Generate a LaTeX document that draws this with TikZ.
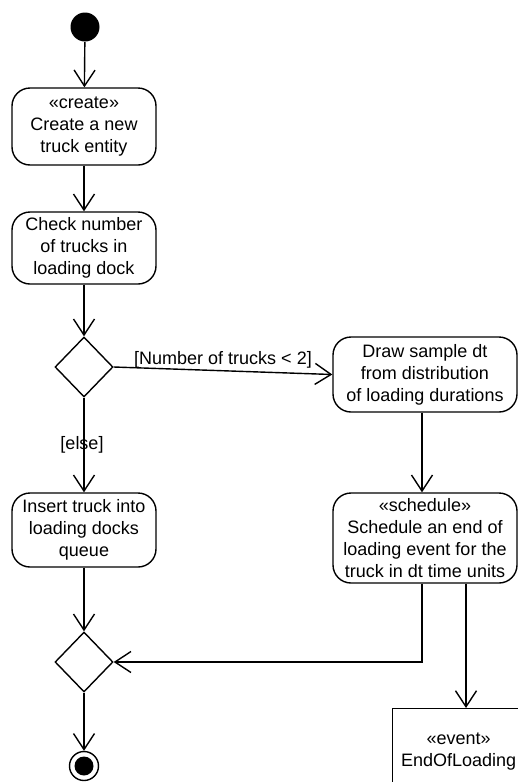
\documentclass[tikz,border=0pt]{standalone}
\usepackage{fontspec}
\setmainfont{Liberation Sans}
\usetikzlibrary{arrows.meta,shapes.geometric}

\begin{document}
\begin{tikzpicture}[x=1pt,y=-1pt,
  font=\fontsize{18}{22}\selectfont,
  line width=1.4pt,
  action/.style={draw, rounded corners=18pt, align=center, inner sep=0pt,
                 minimum width=144pt},
  wideaction/.style={action, minimum width=184pt},
  decision/.style={draw, diamond, minimum width=58pt, minimum height=60pt,
                   inner sep=0pt},
  eventbox/.style={draw, rectangle, align=center, anchor=north west,
                   minimum width=132pt, minimum height=86pt, inner sep=0pt},
  flow/.style={-{Straight Barb[length=16pt,width=21pt]}},
  guard/.style={inner sep=1.5pt}
]
\useasboundingbox (0,0) rectangle (518,782);
\clip (0,0) rectangle (518,782);

% initial and final states
\node[circle, fill=black, minimum size=29pt, inner sep=0pt] (start) at (85,27) {};
\node[circle, draw, minimum size=29pt, inner sep=0pt] (end) at (84,766) {};
\fill (end.center) circle (9.5pt);

% actions
\node[action, minimum height=77pt] (create) at (84,126.5)
  {«create»\\Create a new\\truck entity};
\node[action, minimum height=72pt] (check) at (84,248)
  {Check number\\of trucks in\\loading dock};
\node[decision] (d1) at (84,367) {};
\node[wideaction, minimum height=75pt] (sample) at (425,374.5)
  {Draw sample dt\\from distribution\\of loading durations};
\node[action, minimum height=74pt] (insert) at (84,530)
  {Insert truck into\\loading docks\\queue};
\node[wideaction, minimum height=90pt] (sched) at (425,538)
  {«schedule»\\Schedule an end of\\loading event for the\\truck in dt time units};
\node[decision] (d2) at (84,662) {};
\node[eventbox] (event) at (392,708) {«event»\\EndOfLoading};

% connectors
\draw[flow] (start) -- (create);
\draw[flow] (create) -- (check);
\draw[flow] (check) -- (d1);
\draw[flow] (d1.east) -- node[above, guard] {[Number of trucks < 2]} (sample.west);
\draw[flow] (d1.south) -- node[guard, xshift=-2pt] {[else]} (insert.north);
\draw[flow] ([xshift=-3pt]sample.south) -- ([xshift=-3pt]sched.north);
\draw[flow] (insert) -- (d2);
\coordinate (s1) at ([xshift=-3pt]sched.south);
\coordinate (s2) at ([xshift=41pt]sched.south);
\draw[flow] (s1) |- (d2.east);
\draw[flow] (s2) -- (s2 |- event.north);
\draw[flow] (d2.south) -- (end.north);
\end{tikzpicture}
\end{document}
